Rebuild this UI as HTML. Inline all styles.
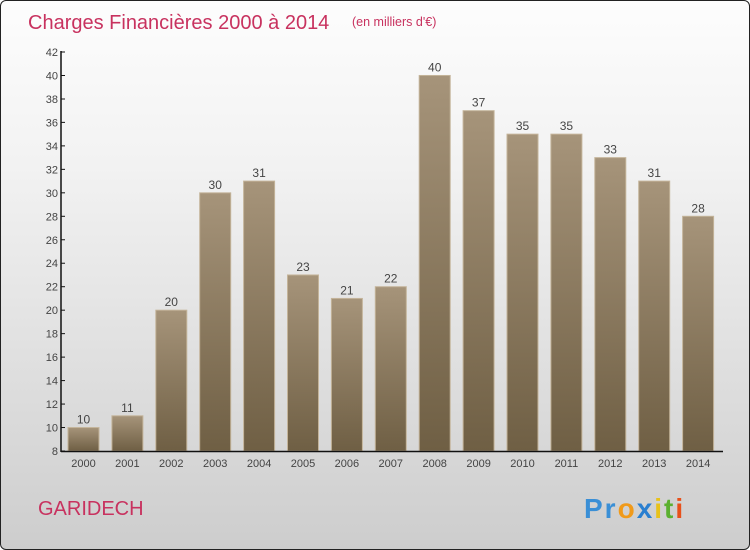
<!DOCTYPE html>
<html><head><meta charset="utf-8"><style>
body{margin:0;width:750px;height:550px;overflow:hidden}
#wrap{position:absolute;left:0;top:0;width:748px;height:548px;border:1px solid #222;border-radius:6px;background:linear-gradient(#fdfdfd,#f2f2f2 30%,#d8d8d8 80%,#cdcdcd);overflow:hidden}
text{font-family:"Liberation Sans",sans-serif}
</style></head><body>
<div id="wrap">
<svg id="svg" width="750" height="550">
<defs><linearGradient id="bg" x1="0" y1="0" x2="0" y2="1"><stop offset="0" stop-color="#a6947a"/><stop offset="1" stop-color="#6f5f44"/></linearGradient></defs>
<text x="27" y="28" font-size="20" fill="#c8325f">Charges Financières 2000 à 2014</text>
<text x="351" y="25" font-size="12.5" fill="#c8325f">(en milliers d'€)</text>
<text x="37" y="514" font-size="20" fill="#c8325f">GARIDECH</text>
<text x="583" y="517" font-size="28" font-weight="bold" letter-spacing="2"><tspan fill="#3a8fd6">Pr</tspan><tspan fill="#f09a1a">o</tspan><tspan fill="#2a7fd0">x</tspan><tspan fill="#e8c21a">i</tspan><tspan fill="#5bb030">t</tspan><tspan fill="#e8501a">i</tspan></text>
<g id="g"></g>
</svg></div>
<script>
const categories=["2000","2001","2002","2003","2004","2005","2006","2007","2008","2009","2010","2011","2012","2013","2014"];
const values=[10,11,20,30,31,23,21,22,40,37,35,35,33,31,28];
const yTicks=[8,10,12,14,16,18,20,22,24,26,28,30,32,34,36,38,40,42];
const NS="http://www.w3.org/2000/svg",g=document.getElementById('g');
const y0=450,y1=51,vmin=8,vmax=42;
const y=v=>y0-(v-vmin)/(vmax-vmin)*(y0-y1);
const x=i=>82.5+i*43.9;
function mk(t,a,p){const e=document.createElementNS(NS,t);for(const k in a)e.setAttribute(k,a[k]);(p||g).appendChild(e);return e;}
yTicks.forEach(v=>{
const t=mk('line',{x1:60,x2:64,y1:y(v),y2:y(v),stroke:'#111'});


const l=mk('text',{x:57,y:y(v)+4,'font-size':11,'text-anchor':'end',fill:'#444'});l.textContent=v;


});
values.forEach((v,i)=>{
const r=mk('rect',{x:x(i)-15.5,y:y(v),width:31,height:y0-y(v),fill:'url(#bg)',stroke:'#c4b49a','stroke-width':1});


const l=mk('text',{x:x(i),y:y(v)-4,'font-size':12,'text-anchor':'middle',fill:'#444'});l.textContent=v;


const c=mk('text',{x:x(i),y:466,'font-size':11,'text-anchor':'middle',fill:'#444'});c.textContent=categories[i];


});
const ya=mk('line',{x1:60,x2:60,y1:50,y2:451,stroke:'#111','stroke-width':1.5});


const xa=mk('line',{x1:60,x2:722,y1:450.5,y2:450.5,stroke:'#111','stroke-width':1.5});


</script>
</body></html>
